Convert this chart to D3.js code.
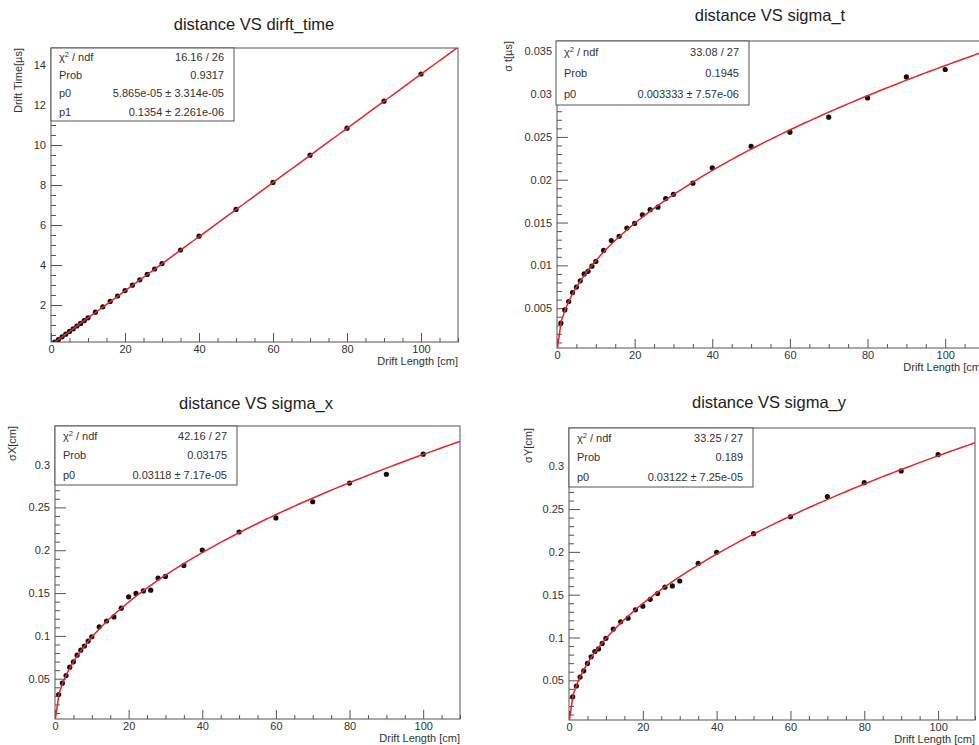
<!DOCTYPE html>
<meta charset="utf-8">
<style>
body { margin: 0; background: #fff; }
text { font-family: "Liberation Sans", Arial, sans-serif; fill: #333; }
.frame { fill: none; stroke: #555; stroke-width: 1px; }
.axis path { display: none; }
.axis line { stroke: #555; }
.axis text { font-family: "Liberation Sans", Arial, sans-serif; font-size: 11px; fill: #333; }
.fit { fill: none; stroke: #e3262a; stroke-width: 1.5px; }
.stats rect { fill: #fff; stroke: #555; stroke-width: 1px; }
.dot { fill: #111; }
</style>
<svg width="979" height="745"></svg>
<script src="https://d3js.org/d3.v7.min.js"></script>
<script>
// drift length of each measurement point [cm]
var distance = [1,2,3,4,5,6,7,8,9,10,12,14,16,18,20,22,24,26,28,30,35,40,50,60,70,80,90,100];

var driftTime = [0.14,0.27,0.41,0.54,0.68,0.81,0.95,1.08,1.22,1.36,1.64,1.91,2.18,2.45,2.72,2.99,3.26,3.53,3.80,4.07,4.75,5.44,6.78,8.13,9.49,10.84,12.19,13.55];
var sigmaT = [0.00325,0.0048,0.00578,0.00683,0.00746,0.0082,0.0090,0.0093,0.0099,0.01046,0.01174,0.0129,0.0134,0.01435,0.0149,0.0159,0.0165,0.0168,0.0178,0.0183,0.0196,0.0214,0.0239,0.02555,0.0273,0.02955,0.0320,0.03287];
var sigmaX = [0.0316,0.0448,0.0537,0.0635,0.0697,0.0775,0.0833,0.0882,0.094,0.099,0.1106,0.1174,0.1222,0.1324,0.1456,0.1496,0.1525,0.1534,0.1675,0.1694,0.1822,0.2002,0.2213,0.2377,0.2566,0.2784,0.2887,0.3121];
var sigmaY = [0.0307,0.0433,0.0537,0.061,0.0697,0.0775,0.0836,0.0866,0.093,0.099,0.1098,0.1183,0.1226,0.1323,0.1366,0.1446,0.1514,0.1588,0.1602,0.166,0.1865,0.1995,0.2213,0.241,0.2647,0.2808,0.2945,0.3137];

// fit parameters from the stat boxes
var fitTime = [5.865e-05, 0.1354];   // p0 + p1*x
var fitT = 0.003333;                  // p0*sqrt(x)
var fitX = 0.03118;
var fitY = 0.03122;

var titles = ["distance VS dirft_time", "distance VS sigma_t", "distance VS sigma_x", "distance VS sigma_y"];
var yTitles = ["Drift Time[\u00b5s]", "\u03c3 t[\u00b5s]", "\u03c3X[cm]", "\u03c3Y[cm]"];
var xTitle = "Drift Length [cm]";

var xDomain = [0, 110];
var xTicks = [0, 20, 40, 60, 80, 100];
var yTicksTime = [2, 4, 6, 8, 10, 12, 14];
var yTicksT = [0.005, 0.01, 0.015, 0.02, 0.025, 0.03, 0.035];
var yTicksXY = [0.05, 0.1, 0.15, 0.2, 0.25, 0.3];

var statsTime = [["chi2", "16.16 / 26"], ["Prob", "0.9317"], ["p0", "5.865e-05 \u00b1 3.314e-05"], ["p1", "0.1354 \u00b1 2.261e-06"]];
var statsT = [["chi2", "33.08 / 27"], ["Prob", "0.1945"], ["p0", "0.003333 \u00b1 7.57e-06"]];
var statsX = [["chi2", "42.16 / 27"], ["Prob", "0.03175"], ["p0", "0.03118 \u00b1 7.17e-05"]];
var statsY = [["chi2", "33.25 / 27"], ["Prob", "0.189"], ["p0", "0.03122 \u00b1 7.25e-05"]];

var svg = d3.select("svg");

var panels = [
  {values: driftTime, yTicks: yTicksTime, yMinor: 0.5, stats: statsTime,
   fit: function(x) { return fitTime[0] + fitTime[1] * x; },
   l: 51, r: 458, t: 48, b: 342, yDomain: [0.15, 14.85],
   titleX: 254, titleY: 30, yTitleX: 18, xTitleY: 365, boxX: 51, boxW: 183, boxH: 73},
  {values: sigmaT, yTicks: yTicksT, yMinor: 0.001, stats: statsT,
   fit: function(x) { return fitT * Math.sqrt(x); },
   l: 557, r: 984, t: 41, b: 348, yDomain: [0.00035, 0.0362],
   titleX: 770, titleY: 21, yTitleX: 508, xTitleY: 371, boxX: 556, boxW: 193, boxH: 64},
  {values: sigmaX, yTicks: yTicksXY, yMinor: 0.01, stats: statsX,
   fit: function(x) { return fitX * Math.sqrt(x); },
   l: 55, r: 460, t: 426, b: 719, yDomain: [0.003, 0.345],
   titleX: 256, titleY: 409, yTitleX: 12, xTitleY: 742, boxX: 55, boxW: 182, boxH: 59},
  {values: sigmaY, yTicks: yTicksXY, yMinor: 0.01, stats: statsY,
   fit: function(x) { return fitY * Math.sqrt(x); },
   l: 569, r: 975, t: 428, b: 720, yDomain: [0.0036, 0.3447],
   titleX: 769, titleY: 408, yTitleX: 528, xTitleY: 743, boxX: 569, boxW: 184, boxH: 59}
];

panels.forEach(function(p, i) {
  var x = d3.scaleLinear().domain(xDomain).range([p.l, p.r]);
  var y = d3.scaleLinear().domain(p.yDomain).range([p.b, p.t]);
  var g = svg.append("g");

  g.append("clipPath").attr("id", "clip" + i)
    .append("rect")
      .attr("x", p.l).attr("y", p.t)
      .attr("width", p.r - p.l).attr("height", p.b - p.t);

  // x axis: minor every 5, major every 20, ticks pointing inside
  var xMinor = d3.range(0, xDomain[1] + 0.01, 5).filter(function(v) { return v % 20 !== 0; });
  g.append("g")
      .attr("class", "axis")
      .attr("transform", "translate(0," + p.b + ")")
      .call(d3.axisBottom(x).tickValues(xMinor).tickSize(-4).tickFormat(""));
  g.append("g")
      .attr("class", "axis")
      .attr("transform", "translate(0," + p.b + ")")
      .call(d3.axisBottom(x).tickValues(xTicks).tickSize(-9).tickPadding(3).tickFormat(d3.format("d")));

  // y axis
  var yMinor = d3.range(Math.ceil(p.yDomain[0] / p.yMinor), Math.floor(p.yDomain[1] / p.yMinor) + 1)
    .map(function(k) { return k * p.yMinor; })
    .filter(function(v) {
      return !p.yTicks.some(function(m) { return Math.abs(m - v) < p.yMinor / 10; });
    });
  g.append("g")
      .attr("class", "axis")
      .attr("transform", "translate(" + p.l + ",0)")
      .call(d3.axisLeft(y).tickValues(yMinor).tickSize(-5).tickFormat(""));
  g.append("g")
      .attr("class", "axis")
      .attr("transform", "translate(" + p.l + ",0)")
      .call(d3.axisLeft(y).tickValues(p.yTicks).tickSize(-11).tickPadding(5).tickFormat(d3.format("~g")));

  g.append("rect")
      .attr("class", "frame")
      .attr("x", p.l).attr("y", p.t)
      .attr("width", p.r - p.l).attr("height", p.b - p.t);

  // data points
  g.append("g")
      .attr("clip-path", "url(#clip" + i + ")")
    .selectAll("circle")
    .data(distance)
    .enter().append("circle")
      .attr("class", "dot")
      .attr("cx", function(d) { return x(d); })
      .attr("cy", function(d, k) { return y(p.values[k]); })
      .attr("r", 2.6);

  // fitted function, drawn across the whole axis range
  var fx = d3.range(0, 101).map(function(k) { return xDomain[0] + k * (xDomain[1] - xDomain[0]) / 100; });
  var line = d3.line()
    .x(function(d) { return x(d); })
    .y(function(d) { return y(p.fit(d)); });
  g.append("path")
      .datum(fx)
      .attr("class", "fit")
      .attr("clip-path", "url(#clip" + i + ")")
      .attr("d", line);

  // stat box
  var sb = g.append("g").attr("class", "stats");
  var rowH = p.boxH / p.stats.length;
  sb.append("rect")
      .attr("x", p.boxX).attr("y", p.t)
      .attr("width", p.boxW).attr("height", p.boxH);
  p.stats.forEach(function(row, k) {
    var cy = p.t + rowH * (k + 0.5);
    var lt = sb.append("text")
        .attr("x", p.boxX + 8).attr("y", cy)
        .attr("dy", "0.35em")
        .style("font-size", "11px");
    if (row[0] === "chi2") {
      lt.append("tspan").text("\u03c7");
      lt.append("tspan").attr("dy", -4).style("font-size", "7.5px").text("2");
      lt.append("tspan").attr("dy", 4).text(" / ndf");
    } else {
      lt.text(row[0]);
    }
    sb.append("text")
        .attr("x", p.boxX + p.boxW - 10).attr("y", cy)
        .attr("dy", "0.35em")
        .attr("text-anchor", "end")
        .style("font-size", "11px")
        .text(row[1]);
  });

  // titles
  g.append("text")
      .attr("x", p.titleX).attr("y", p.titleY)
      .attr("text-anchor", "middle")
      .style("font-size", "16.5px")
      .style("fill", "#222")
      .text(titles[i]);
  g.append("text")
      .attr("transform", "translate(" + p.yTitleX + "," + p.t + ") rotate(-90)")
      .attr("dy", "0.35em")
      .attr("text-anchor", "end")
      .style("font-size", "11px")
      .text(yTitles[i]);
  g.append("text")
      .attr("x", p.r).attr("y", p.xTitleY)
      .attr("text-anchor", "end")
      .style("font-size", "11px")
      .text(xTitle);
});
</script>
